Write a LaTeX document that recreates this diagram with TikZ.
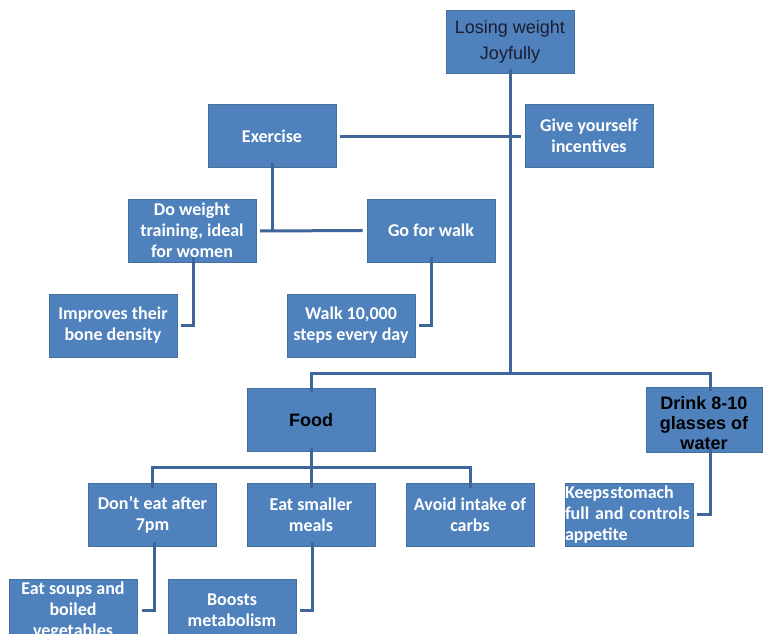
\documentclass[tikz,border=0pt]{standalone}
\usepackage{fontspec}
\setmainfont{Carlito}
\newfontfamily\arifont{Liberation Sans}
\usetikzlibrary{calc}
\definecolor{boxblue}{HTML}{4F81BD}
\definecolor{boxedge}{HTML}{41719C}
\definecolor{conn}{HTML}{3F659A}
\definecolor{darktext}{HTML}{1C1C30}
\tikzset{
  box/.style={fill=boxblue, draw=boxedge, line width=0.6pt, minimum width=128pt, minimum height=63pt,
    inner sep=2pt, align=center, text=white, font=\bfseries\fontsize{18}{21}\selectfont},
  arbox/.style={box, text=black, font=\arifont\bfseries\fontsize{18}{20}\selectfont},
  conline/.style={draw=conn, line width=3pt, line join=miter}
}
\begin{document}
\begin{tikzpicture}[x=1pt,y=-1pt]
\useasboundingbox (0,0) rectangle (766,634);
\clip (0,0) rectangle (766,634);
% nodes
\node[box, text=darktext, font=\arifont\fontsize{18}{26}\selectfont] (root) at (510,41.5) {Losing weight\\Joyfully};
\node[box] (incent) at (589,136) {Give yourself\\incentives};
\node[box] (exer) at (272,136) {Exercise};
\node[box] (weight) at (192,230.5) {Do weight\\training, ideal\\for women};
\node[box] (walk) at (431,230.5) {Go for walk};
\node[box] (bone) at (113,325.5) {Improves their\\bone density};
\node[box] (steps) at (351,325.5) {Walk 10,000\\steps every day};
\node[arbox] (food) at (311,420) {Food};
\node[arbox, minimum width=116pt] (drink) at (704,419.5) {\rule{0pt}{21pt}Drink 8-10\\glasses of\\water};
\node[box, align=left, text width=128pt, inner xsep=0pt, font=\bfseries\fontsize{18}{21}\selectfont] (keeps) at (629,514.5) {Keeps\hspace{1pt}stomach\\full and controls\\appetite};
\node[box] (dont) at (152.5,514.5) {Don’t eat after\\7pm};
\node[box] (small) at (311,514.5) {Eat smaller\\meals};
\node[box] (avoid) at (470,514.5) {Avoid intake of\\carbs};
\node[box] (soups) at (73,610.5) {Eat soups and\\boiled\\vegetables};
\node[box] (boost) at (232,610.5) {Boosts\\metabolism};
% coordinates
\coordinate (tr) at (510,373);
\coordinate (exR) at (521,136);
\coordinate (exJ) at (272,231);
\coordinate (exL) at (260,231);
\coordinate (bl) at (311,373);
\coordinate (br) at (710,373);
\coordinate (fj) at (311,467);
\coordinate (fl) at (152.5,467);
\coordinate (fr) at (470,467);
% connectors
\draw[conline] ([yshift=4pt]root.south) -- (tr);
\draw[conline] ([xshift=4pt]exer.east) -- (exR);
\draw[conline] ([yshift=5pt]exer.south) -- (exJ);
\draw[conline] (exL) -- ([xshift=-4pt]walk.west);
\draw[conline] ([xshift=1pt,yshift=5pt]weight.south) |- ([xshift=4pt]bone.east);
\draw[conline] ([yshift=5pt]walk.south) |- ([xshift=4pt]steps.east);
\draw[conline] ([yshift=-4pt]food.north) -- (bl) -- (br) -- ([xshift=6pt,yshift=-4pt]drink.north);
\draw[conline] ([yshift=4pt]food.south) -- (fj);
\draw[conline] ([yshift=-5pt]dont.north) -- (fl) -- (fr) -- ([yshift=-5pt]avoid.north);
\draw[conline] (fj) -- ([yshift=-5pt]small.north);
\draw[conline] ([xshift=6pt,yshift=4pt]drink.south) |- ([xshift=4pt]keeps.east);
\draw[conline] ([xshift=1.5pt,yshift=4pt]dont.south) |- ([xshift=5pt]soups.east);
\draw[conline] ([xshift=1pt,yshift=4pt]small.south) |- ([xshift=4pt]boost.east);
\end{tikzpicture}
\end{document}
